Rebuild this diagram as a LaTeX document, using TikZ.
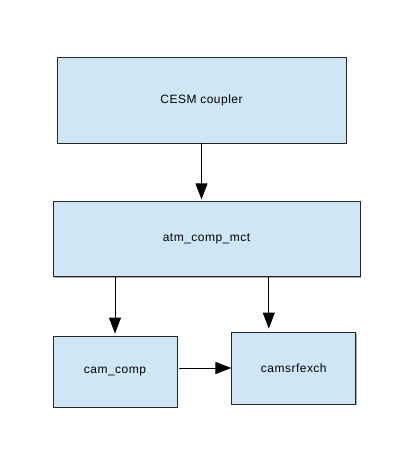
\documentclass[tikz,border=0pt]{standalone}
\usepackage{fontspec}
\setmainfont{Liberation Sans}[LetterSpace=4]
\usetikzlibrary{arrows.meta, positioning, shadows}
\definecolor{boxcolor}{RGB}{207, 231, 245}

\begin{document}
\begin{tikzpicture}[
    x=1pt, y=1pt,
    >={Triangle[length=16pt, width=12pt]},
    box/.style={rectangle, draw=black!85, fill=boxcolor, line width=0.8pt, align=center, font=\fontsize{12}{14}\selectfont, drop shadow={shadow xshift=1pt, shadow yshift=-1pt, fill=black!35, opacity=1}},
    arrow/.style={->, line width=0.9pt, black}
]
\useasboundingbox (0,0) rectangle (400,450);

% ========== BOXES ==========
\node[box, minimum width=289pt, minimum height=86pt] (coupler) at (201.5,350) {CESM coupler};

\node[box, minimum width=307pt, minimum height=75pt, below=58pt of coupler, xshift=5pt] (atm) {atm\_comp\_mct};

\node[box, minimum width=124pt, minimum height=71pt] (cam) at (115,78.5) {cam\_comp};

\node[box, minimum width=124pt, minimum height=72pt, right=54pt of cam, yshift=3.5pt] (srfx) {camsrfexch};

% ========== ARROWS ==========
\draw[arrow] (coupler.south) -- ([yshift=2pt]atm.north -| coupler.south);
\draw[arrow] (atm.south -| cam.north) -- ([yshift=2pt]cam.north);
\draw[arrow] ([xshift=-25pt]atm.south -| srfx.north) -- ([xshift=-25pt, yshift=3pt]srfx.north);
\draw[arrow] ([xshift=2pt]cam.east |- srfx.west) -- (srfx.west);

\end{tikzpicture}
\end{document}
